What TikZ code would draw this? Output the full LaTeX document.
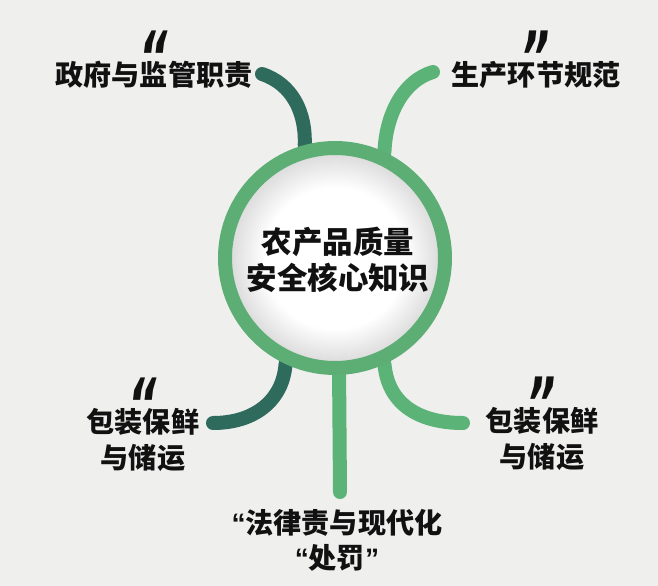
\documentclass[tikz,border=0pt]{standalone}
\usepackage{fontspec}
\setmainfont{Noto Sans CJK SC}
\newfontfamily\quotefont{Liberation Sans}
\newfontfamily\markfont{DejaVu Sans}
\usetikzlibrary{positioning, backgrounds, shadows}

\definecolor{paper}{HTML}{EFEFEE}
\definecolor{ringgreen}{HTML}{5DAE74}
\definecolor{leafgreen}{HTML}{5CB377}
\definecolor{deepteal}{HTML}{2F6B5D}
\definecolor{inkblack}{HTML}{111111}
\pgfdeclareradialshading{hubshade}{\pgfpoint{0bp}{0bp}}{color(0bp)=(white); color(16bp)=(white); color(25bp)=(black!16); color(50bp)=(black!16)}
\newcommand{\qmark}[1]{\raisebox{-0.62em}[0.4em][0pt]{\scalebox{0.85}[1.4]{#1}}}

\begin{document}
\begin{tikzpicture}[x=0.03cm, y=-0.03cm, node distance=8pt,
		every node/.style={text=inkblack, inner sep=0pt},
		topic/.style={font=\fontsize{24}{30}\selectfont\bfseries, align=center},
		quote/.style={font=\markfont\fontsize{44}{44}\selectfont\bfseries\itshape},
		branch/.style={line width=0.42cm, line cap=round}]
		\useasboundingbox (0,0) rectangle (658,586);
		% centre
		\node[circle, minimum size=6.6cm, draw=ringgreen, line width=0.42cm, shading=hubshade,
			drop shadow={opacity=0.18, shadow xshift=4pt, shadow yshift=-5pt}] (hub) at (335,258) {};
		\node[font=\fontsize{26}{31}\selectfont\bfseries, align=center] (title) at (338,260) {农产品质量\\安全核心知识};
		% topics
		\node[topic] (gov) at (154,75) {政府与监管职责};
		\node[topic] (prod) at (536,75) {生产环节规范};
		\node[topic] (packl) at (143,440) {包装保鲜\\与储运};
		\node[topic] (packr) at (542,439) {包装保鲜\\与储运};
		\node[topic] (law) at (337,540) {{\quotefont “}法律责与现代化\\{\quotefont “}处罚{\quotefont ”}};
		\node[quote, above=of gov] (govq) {\qmark{“}};
		\node[quote, above=of prod] (prodq) {\qmark{”}};
		\node[quote, above=of packl] (packlq) {\qmark{“}};
		\node[quote, above=of packr] (packrq) {\qmark{”}};
		% free ends of the branches
		\coordinate (govend) at (262,74);
		\coordinate (prodend) at (433,72);
		\coordinate (packlend) at (213,423);
		\coordinate (packrend) at (463,423);
		\coordinate (lawend) at (340,492);
		\begin{pgfonlayer}{background}
			\fill[paper] (0,0) rectangle (658,586);
			\draw[branch, deepteal] (govend) .. controls (292,84) and (306,112) .. (hub.105);
			\draw[branch, leafgreen] (prodend) .. controls (405,80) and (386,112) .. (hub.65);
			\draw[branch, deepteal] (packlend) .. controls (255,423) and (283,400) .. (hub.245);
			\draw[branch, leafgreen] (packrend) .. controls (420,423) and (388,405) .. (hub.295);
			\draw[branch, leafgreen] (lawend) -- (hub.272);
		\end{pgfonlayer}
	\end{tikzpicture}
\end{document}
